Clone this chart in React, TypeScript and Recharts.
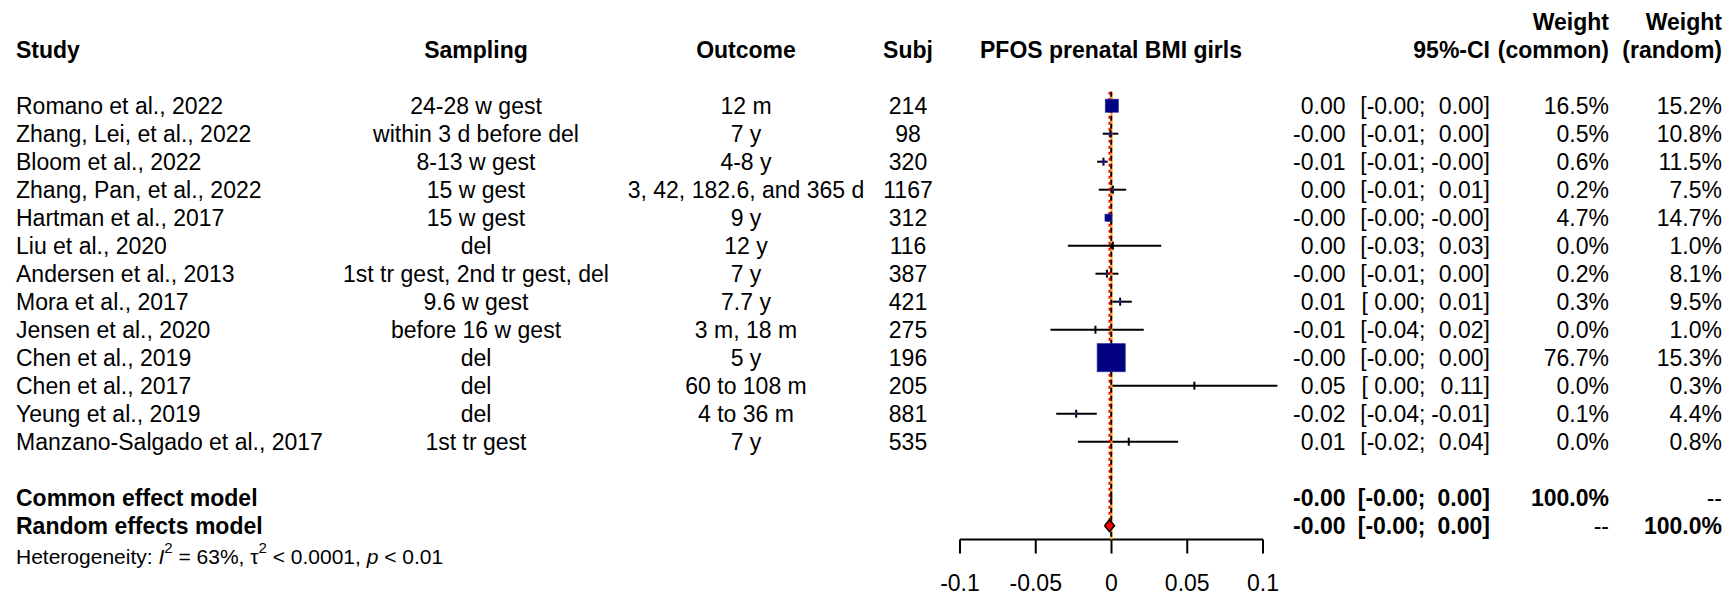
import React from 'react'
import { ComposedChart, Scatter, XAxis, YAxis, ErrorBar } from 'recharts'

const studies = [
  'Romano et al., 2022', 'Zhang, Lei, et al., 2022', 'Bloom et al., 2022', 'Zhang, Pan, et al., 2022',
  'Hartman et al., 2017', 'Liu et al., 2020', 'Andersen et al., 2013', 'Mora et al., 2017',
  'Jensen et al., 2020', 'Chen et al., 2019', 'Chen et al., 2017', 'Yeung et al., 2019',
  'Manzano-Salgado et al., 2017',
]
const sampling = [
  '24-28 w gest', 'within 3 d before del', '8-13 w gest', '15 w gest', '15 w gest', 'del',
  '1st tr gest, 2nd tr gest, del', '9.6 w gest', 'before 16 w gest', 'del', 'del', 'del', '1st tr gest',
]
const outcomes = [
  '12 m', '7 y', '4-8 y', '3, 42, 182.6, and 365 d', '9 y', '12 y', '7 y', '7.7 y', '3 m, 18 m',
  '5 y', '60 to 108 m', '4 to 36 m', '7 y',
]
const subjects = [214, 98, 320, 1167, 312, 116, 387, 421, 275, 196, 205, 881, 535]
const estimates = [0.0002, -0.0007, -0.0053, 0.0009, -0.002, 0.0009, -0.003, 0.0057, -0.0106, -0.0002, 0.0547, -0.0233, 0.0114]
const ciLower = [-0.0015, -0.0058, -0.0095, -0.0084, -0.0032, -0.0288, -0.0106, 0.0002, -0.0403, -0.0012, 0.0003, -0.0365, -0.0222]
const ciUpper = [0.0018, 0.0045, -0.0025, 0.0097, -0.0008, 0.0328, 0.0046, 0.0134, 0.0213, 0.0008, 0.1095, -0.0097, 0.044]
const weightCommon = [16.5, 0.5, 0.6, 0.2, 4.7, 0.0, 0.2, 0.3, 0.0, 76.7, 0.0, 0.1, 0.0]
const weightRandom = [15.2, 10.8, 11.5, 7.5, 14.7, 1.0, 8.1, 9.5, 1.0, 15.3, 0.3, 4.4, 0.8]

const pooledLabels = ['Common effect model', 'Random effects model']
const pooledEst = [-0.0002, -0.0013]
const pooledLower = [-0.0006, -0.0046]
const pooledUpper = [0.0002, 0.002]
const heterogeneity = { i2: '63%', tau2: '< 0.0001', p: '< 0.01' }
const xTicks = [-0.1, -0.05, 0, 0.05, 0.1]

// layout
const W = 1728
const H = 596
const FONT = '"Liberation Sans", Arial, sans-serif'
const FS = 23
const AXIS_Y = 539.5
const ROW_TOP = 105.7 // centre of first study row
const ROW_H = 28
const Y_MIN = 1 - ROW_TOP / ROW_H
const Y_MAX = 1 + (AXIS_Y - ROW_TOP) / ROW_H
const SQ_K = 3.2
const DIAMOND_H = 6 / ROW_H
const COL = { study: 16, sampling: 476, outcome: 746, subj: 908, title: 1111, est: 1345.5, lo: 1425.5, hi: 1490, wCommon: 1609, wRandom: 1722 }

// x scale: -0.1 sits at 960px, 0.1 at 1263px; the domain is widened to hold CIs that run past 0.1
const PLOT_LEFT = 960
const PX_PER_UNIT = (1263 - 960) / 0.2
const X_MIN = Math.min(xTicks[0], ...ciLower, ...pooledLower)
const X_MAX = Math.max(xTicks[xTicks.length - 1], ...ciUpper, ...pooledUpper)
const PLOT_RIGHT_MARGIN = W - PLOT_LEFT - PX_PER_UNIT * (X_MAX - X_MIN)

const f2 = (v: number) => v.toFixed(2)
const loTxt = (v: number) => '[' + (v >= 0 ? ' ' : '') + f2(v) + ';'
const pct = (v: number) => v.toFixed(1) + '%'

const studyPoints = studies.map((s, i) => ({
  x: estimates[i], y: i + 1, w: weightCommon[i],
  ci: [estimates[i] - ciLower[i], ciUpper[i] - estimates[i]],
}))

const tableRows: any[] = [
  { x: 0, y: -2, kind: 'head2' },
  { x: 0, y: -1, kind: 'head1' },
  ...studies.map((s, i) => ({ x: 0, y: i + 1, kind: 'study', i })),
  ...pooledLabels.map((s, k) => ({ x: 0, y: 15 + k, kind: 'pooled', k })),
]

const diamond = (k: number) => {
  const y = 15 + k
  return [
    { x: pooledLower[k], y },
    { x: pooledEst[k], y: y - DIAMOND_H },
    { x: pooledUpper[k], y },
    { x: pooledEst[k], y: y + DIAMOND_H },
    { x: pooledLower[k], y },
  ]
}

const Empty = () => <g />

function T({ x, y, anchor = 'start', bold = false, children, size = FS }: any) {
  return (
    <text x={x} y={y} dy="0.34em" textAnchor={anchor} fontFamily={FONT} fontSize={size} fontWeight={bold ? 'bold' : 'normal'} fill="#000">
      {children}
    </text>
  )
}

function Heterogeneity({ y }: any) {
  return (
    <text x={COL.study} y={y} dy="0.34em" fontFamily={FONT} fontSize={21} fill="#000">
      <tspan>{'Heterogeneity: '}</tspan>
      <tspan fontStyle="italic">I</tspan>
      <tspan fontSize={15} dy={-11}>2</tspan>
      <tspan dy={11}>{' = ' + heterogeneity.i2 + ', τ'}</tspan>
      <tspan fontSize={15} dy={-11}>2</tspan>
      <tspan dy={11}>{' ' + heterogeneity.tau2 + ', '}</tspan>
      <tspan fontStyle="italic">p</tspan>
      <tspan>{' ' + heterogeneity.p}</tspan>
    </text>
  )
}

function TableRow(props: any) {
  const { cy, payload } = props
  const r = payload
  if (r.kind === 'head2') {
    return (
      <g>
        <T x={COL.wCommon} y={cy} anchor="end" bold>Weight</T>
        <T x={COL.wRandom} y={cy} anchor="end" bold>Weight</T>
      </g>
    )
  }
  if (r.kind === 'head1') {
    return (
      <g>
        <T x={COL.study} y={cy} bold>Study</T>
        <T x={COL.sampling} y={cy} anchor="middle" bold>Sampling</T>
        <T x={COL.outcome} y={cy} anchor="middle" bold>Outcome</T>
        <T x={COL.subj} y={cy} anchor="middle" bold>Subj</T>
        <T x={COL.title} y={cy} anchor="middle" bold>PFOS prenatal BMI girls</T>
        <T x={COL.hi} y={cy} anchor="end" bold>95%-CI</T>
        <T x={COL.wCommon} y={cy} anchor="end" bold>(common)</T>
        <T x={COL.wRandom} y={cy} anchor="end" bold>(random)</T>
      </g>
    )
  }
  if (r.kind === 'study') {
    const i = r.i
    return (
      <g>
        <T x={COL.study} y={cy}>{studies[i]}</T>
        <T x={COL.sampling} y={cy} anchor="middle">{sampling[i]}</T>
        <T x={COL.outcome} y={cy} anchor="middle">{outcomes[i]}</T>
        <T x={COL.subj} y={cy} anchor="middle">{subjects[i]}</T>
        <T x={COL.est} y={cy} anchor="end">{f2(estimates[i])}</T>
        <T x={COL.lo} y={cy} anchor="end">{loTxt(ciLower[i])}</T>
        <T x={COL.hi} y={cy} anchor="end">{f2(ciUpper[i]) + ']'}</T>
        <T x={COL.wCommon} y={cy} anchor="end">{pct(weightCommon[i])}</T>
        <T x={COL.wRandom} y={cy} anchor="end">{pct(weightRandom[i])}</T>
      </g>
    )
  }
  const k = r.k
  return (
    <g>
      <T x={COL.study} y={cy} bold>{pooledLabels[k]}</T>
      <T x={COL.est} y={cy} anchor="end" bold>{f2(pooledEst[k])}</T>
      <T x={COL.lo} y={cy} anchor="end" bold>{loTxt(pooledLower[k])}</T>
      <T x={COL.hi} y={cy} anchor="end" bold>{f2(pooledUpper[k]) + ']'}</T>
      <T x={COL.wCommon} y={cy} anchor="end" bold={k === 0}>{k === 0 ? '100.0%' : '--'}</T>
      <T x={COL.wRandom} y={cy} anchor="end" bold={k === 1}>{k === 1 ? '100.0%' : '--'}</T>
      {k === 1 && <Heterogeneity y={cy + 31} />}
    </g>
  )
}

function StudyMarker(props: any) {
  const { cx, cy, payload } = props
  const side = SQ_K * Math.sqrt(payload.w)
  return (
    <g>
      <line x1={cx} x2={cx} y1={cy - 4} y2={cy + 4} stroke="#000" strokeWidth={2} />
      {side > 0 && (
        <rect x={cx - side / 2} y={cy - side / 2} width={side} height={side} fill="#000080" stroke="#2b2ba0" strokeWidth={0.8} />
      )}
    </g>
  )
}

export default function App() {
  const vline = (x: number, y2: number) => [{ x, y: 0.5 }, { x, y: y2 }]
  const axisLine = [{ x: xTicks[0], y: Y_MAX }, { x: xTicks[xTicks.length - 1], y: Y_MAX }]
  return (
    <div style={{ position: 'absolute', left: 0, top: 0, background: '#fff' }}>
      <ComposedChart width={W} height={H} margin={{ top: 0, right: PLOT_RIGHT_MARGIN, bottom: 0, left: PLOT_LEFT }}>
        <XAxis
          type="number" dataKey="x" domain={[X_MIN, X_MAX]} ticks={xTicks}
          tickFormatter={(v: any) => String(v)} height={H - AXIS_Y} tickSize={14} tickMargin={21}
          axisLine={false} tickLine={{ stroke: '#000', strokeWidth: 2 }}
          tick={{ fill: '#000', fontSize: FS, fontFamily: FONT }} interval={0}
        />
        <YAxis type="number" dataKey="y" domain={[Y_MIN, Y_MAX]} reversed hide />
        <Scatter data={axisLine} line={{ stroke: '#000', strokeWidth: 2 }} shape={Empty} isAnimationActive={false} />
        <Scatter data={vline(0, Y_MAX)} line={{ stroke: '#FFA500', strokeWidth: 2 }} shape={Empty} isAnimationActive={false} />
        <Scatter data={vline(pooledEst[0], Y_MAX)} line={{ stroke: '#000', strokeWidth: 2, strokeDasharray: '5 3' }} shape={Empty} isAnimationActive={false} />
        <Scatter data={vline(pooledEst[1], 16 - DIAMOND_H)} line={{ stroke: '#FF0000', strokeWidth: 2, strokeDasharray: '3 3' }} shape={Empty} isAnimationActive={false} />
        <Scatter data={studyPoints} shape={StudyMarker} isAnimationActive={false}>
          <ErrorBar dataKey="ci" direction="x" width={0} stroke="#000" strokeWidth={2} />
        </Scatter>
        <Scatter data={diamond(0)} line={{ stroke: '#000', strokeWidth: 1, fill: '#808080' }} shape={Empty} isAnimationActive={false} />
        <Scatter data={diamond(1)} line={{ stroke: '#000', strokeWidth: 1.5, fill: '#FF0000' }} shape={Empty} isAnimationActive={false} />
        <Scatter data={tableRows} shape={TableRow} isAnimationActive={false} />
      </ComposedChart>
    </div>
  )
}
